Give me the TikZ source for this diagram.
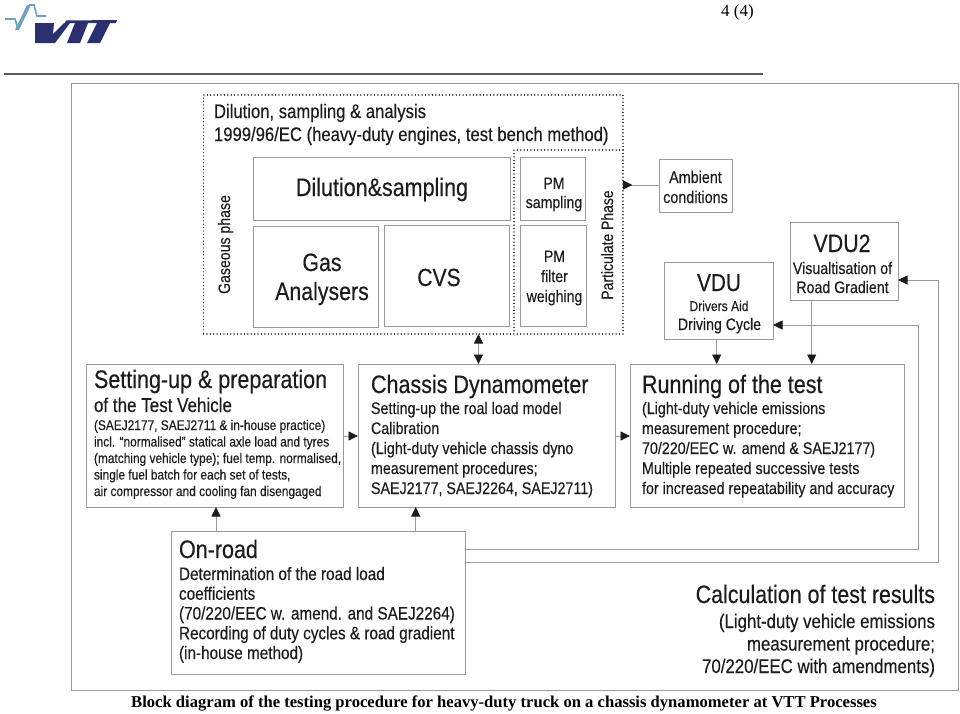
\documentclass[tikz,border=0pt]{standalone}
\usepackage{fontspec}
\setmainfont{Liberation Sans}[FakeStretch=0.85,FakeBold=0.3]
\newfontfamily\capfont{Liberation Serif}
\usetikzlibrary{arrows.meta,calc}
\definecolor{boxgray}{HTML}{9A9A9A}
\definecolor{ink}{HTML}{1C1C1C}
\definecolor{vttnavy}{HTML}{2B3070}
\definecolor{vttblue}{HTML}{6F9FC2}
\newcommand{\fs}[2]{\fontsize{#1}{#2}\selectfont}
\tikzset{
  x=1pt,y=-1pt,
  boxn/.style={draw=boxgray,line width=0.9pt,inner sep=0pt,outer sep=0pt},
  dotline/.style={draw=ink,line width=1.4pt,line cap=round,dash pattern=on 0.01pt off 3.4pt},
  dotbox/.style={dotline,inner sep=0pt,outer sep=0pt},
  hollow/.style={inner sep=0pt,outer sep=0pt},
  conn/.style={draw=boxgray,line width=0.9pt,-{Triangle[color=ink,length=9.5pt,width=9pt]}},
  connrev/.style={draw=boxgray,line width=0.9pt,{Triangle[reversed,color=ink,length=9.5pt,width=9pt]}-},
  dbl/.style={draw=boxgray,line width=0.9pt,{Triangle[color=ink,length=9.5pt,width=9pt]}-{Triangle[color=ink,length=9.5pt,width=9pt]}},
  tl/.style={text=ink,inner sep=0pt,outer sep=0pt,anchor=base west,align=left},
  tc/.style={text=ink,inner sep=0pt,outer sep=0pt,anchor=base,align=center},
  tr/.style={text=ink,inner sep=0pt,outer sep=0pt,anchor=base east,align=right},
}
\newcommand{\bx}[6][boxn]{%
  \pgfmathsetmacro{\bxw}{#5-#3}\pgfmathsetmacro{\bxh}{#6-#4}%
  \node[#1,minimum width=\bxw pt,minimum height=\bxh pt] (#2) at ({(#3+#5)/2},{(#4+#6)/2}) {};}
\begin{document}
\begin{tikzpicture}
\useasboundingbox (0,0) rectangle (960,713);
% logo
\draw[vttblue,line width=1.6pt,line join=miter] (5,19)--(15,19)--(18,29);
\fill[vttblue] (15,30)--(19,30)--(31,5)--(27,5)--cycle;
\draw[vttblue,line width=1.6pt,line join=miter] (29,5)--(34,5)--(37,16)--(46,16);
\fill[vttnavy] (35,23)--(54,23)--(53,34)--(64,23)--(70,23)--(55,43)--(35,43)--cycle;
\fill[vttnavy] (66,20.5)--(117,20)--(116,23)--(65,23)--cycle;
\fill[vttnavy] (75,23)--(88,23)--(80,43)--(67,43)--cycle;
\fill[vttnavy] (97,23)--(110,23)--(100,43)--(87,43)--cycle;
% page number and rule
\node[text=black,inner sep=0pt,anchor=base west,font=\capfont\fs{17}{18}] (pageno) at (721,16) {4 (4)};
\draw[black!65,line width=1.5pt] (4,74) -- (763,74);
% frame
\bx{frame}{71}{83}{958.5}{690}
% dotted groups
\bx[dotbox]{dil}{203.5}{95}{623}{334}
\bx[hollow]{part}{514}{150}{623}{334}
\draw[dotline] (part.north east) -- (part.north west) -- (part.south west);
% boxes
\bx{dilsam}{253}{157}{510}{220}
\bx{gas}{253}{226}{378}{327}
\bx{cvs}{384}{225}{509}{326}
\bx{pmsam}{520}{157}{585}{220}
\bx{pmfil}{520.5}{225}{586}{326}
\bx{amb}{659}{159}{732}{212}
\bx{vdu}{664}{262}{773}{339}
\bx{vdutwo}{790}{222}{898}{300}
\bx{setup}{86}{364}{343}{507}
\bx{chassis}{358}{364}{615}{507}
\bx{run}{630}{364}{904}{507}
\bx{road}{171}{531}{465}{674}
% connectors
\coordinate (c1) at (716.7,0);
\coordinate (c2) at (811.7,0);
\coordinate (c3) at (216,0);
\coordinate (c4) at (415.7,0);
\coordinate (c5) at (478.5,0);
\coordinate (h1) at (0,185);
\coordinate (h2) at (0,436);
\coordinate (h3) at (0,549);
\coordinate (h4) at (0,562);
\coordinate (h5) at (0,325);
\coordinate (h6) at (0,280);
\coordinate (r1) at (918,0);
\coordinate (r2) at (938,0);
\draw[conn] (c1 |- vdu.south) -- (c1 |- run.north);
\draw[conn] (c2 |- vdutwo.south) -- (c2 |- run.north);
\draw[conn] (c3 |- road.north) -- (c3 |- setup.south);
\draw[conn] (c4 |- road.north) -- (c4 |- chassis.south);
\draw[dbl] (c5 |- dil.south) -- (c5 |- chassis.north);
\draw[connrev] (part.east |- h1) -- (amb.west |- h1);
\draw[conn] (setup.east |- h2) -- (chassis.west |- h2);
\draw[conn] (chassis.east |- h2) -- (run.west |- h2);
\draw[conn] (road.east |- h3) -- (r1 |- h3) -- (r1 |- h5) -- (vdu.east |- h5);
\draw[conn] (road.east |- h4) -- (r2 |- h4) -- (r2 |- h6) -- (vdutwo.east |- h6);
% text
\node[tl,font=\fs{19.6}{23}] (t1) at (214,141) {Dilution, sampling \& analysis\\1999/96/EC (heavy-duty engines, test bench method)};
\node[tc,font=\fs{25.3}{29}] (t2) at (382,196) {Dilution\&sampling};
\node[tc,font=\fs{25.1}{29}] (t3) at (322,300) {Gas\\Analysers};
\node[tc,font=\fs{24.8}{29}] (t4) at (439,286) {CVS};
\node[tc,font=\fs{16.6}{19}] (t5) at (554,208) {PM\\sampling};
\node[tc,font=\fs{16.6}{20}] (t6) at (554.5,302) {PM\\filter\\weighing};
\node[text=ink,inner sep=0pt,anchor=base,rotate=90,font=\fs{16.4}{20}] (t7) at (613,245) {Particulate Phase};
\node[text=ink,inner sep=0pt,anchor=base,rotate=90,font=\fs{16.6}{20}] (t8) at (230,244.5) {Gaseous phase};
\node[tc,font=\fs{16.9}{20}] (t9) at (695.5,203) {Ambient\\conditions};
\node[tc,font=\fs{24.4}{29}] (t10) at (719,291) {VDU};
\node[tc,font=\fs{14.2}{18}] (t11) at (719,311) {Drivers Aid};
\node[tc,font=\fs{16.6}{20}] (t12) at (719.5,330) {Driving Cycle};
\node[tc,font=\fs{25.2}{29}] (t13) at (842,252) {VDU2};
\node[tc,font=\fs{16.7}{19}] (t14) at (842.5,293) {Visualtisation of\\Road Gradient};
\node[tl,font=\fs{25.3}{28}] (t15) at (94,388) {Setting-up \& preparation};
\node[tl,font=\fs{20}{24}] (t16) at (94,412) {of the Test Vehicle};
\node[tl,font=\fs{14}{16.5}] (t17) at (94,496) {(SAEJ2177, SAEJ2711 \& in-house practice)\\incl. ``normalised'' statical axle load and tyres\\(matching vehicle type); fuel temp. normalised,\\single fuel batch for each set of tests,\\air compressor and cooling fan disengaged};
\node[tl,font=\fs{25.3}{28}] (t18) at (371,393) {Chassis Dynamometer};
\node[tl,font=\fs{16.8}{20}] (t19) at (371,494) {Setting-up the roal load model\\Calibration\\(Light-duty vehicle chassis dyno\\measurement procedures;\\SAEJ2177, SAEJ2264, SAEJ2711)};
\node[tl,font=\fs{25.3}{28}] (t20) at (642,393) {Running of the test};
\node[tl,font=\fs{16.8}{20}] (t21) at (642,494) {(Light-duty vehicle emissions\\measurement procedure;\\70/220/EEC w. amend \& SAEJ2177)\\Multiple repeated successive tests\\for increased repeatability and accuracy};
\node[tl,font=\fs{25.3}{28}] (t22) at (179,558) {On-road};
\node[tl,font=\fs{18}{19.75}] (t23) at (179,659) {Determination of the road load\\coefficients\\(70/220/EEC w. amend. and SAEJ2264)\\Recording of duty cycles \& road gradient\\(in-house method)};
\node[tr,font=\fs{25.2}{29}] (t24) at (935,603) {Calculation of test results};
\node[tr,font=\fs{19.8}{22.5}] (t25) at (935,673) {(Light-duty vehicle emissions\\measurement procedure;\\70/220/EEC with amendments)};
\node[text=black,inner sep=0pt,anchor=base,font=\capfont\bfseries\fs{16.6}{18}] (cap) at (504,707) {Block diagram of the testing procedure for heavy-duty truck on a chassis dynamometer at VTT Processes};
\end{tikzpicture}
\end{document}
